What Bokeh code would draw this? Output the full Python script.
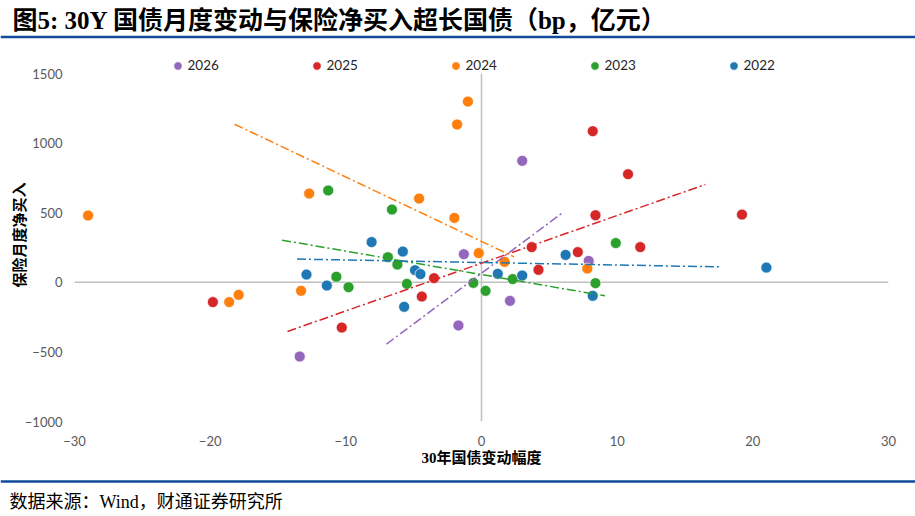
from bokeh.plotting import figure
from bokeh.models import (Range1d, FixedTicker, Span, Label, Legend, LegendItem)
from bokeh.layouts import column
from bokeh.embed import file_html
from bokeh.resources import INLINE

# ---------------- data ----------------
years = ["2026", "2025", "2024", "2023", "2022"]
colors = ["#9467bd", "#d62728", "#ff7f0e", "#2ca02c", "#1f77b4"]

x_2026 = [-13.4, -1.7, -1.3, 2.1, 3.0, 7.9]
y_2026 = [-533, -310, 202, -133, 873, 154]

x_2025 = [-19.8, -10.3, -4.4, -3.5, 3.7, 4.2, 7.1, 8.2, 8.4, 10.8, 11.7, 19.2]
y_2025 = [-142, -325, -102, 30, 253, 90, 217, 1086, 482, 777, 253, 487]

x_2024 = [-29.0, -18.6, -17.9, -13.3, -12.7, -4.6, -2.0, -1.8, -1.0, -0.2, 1.7, 7.8]
y_2024 = [480, -142, -90, -61, 638, 602, 463, 1134, 1299, 210, 147, 99]

x_2023 = [-11.3, -10.7, -9.8, -6.9, -6.6, -6.2, -5.5, -0.6, 0.3, 2.3, 8.4, 9.9]
y_2023 = [660, 40, -35, 181, 523, 128, -11, -4, -61, 23, -6, 282]

x_2022 = [-12.9, -11.4, -8.1, -5.8, -5.7, -4.9, -4.5, 1.2, 3.0, 6.2, 8.2, 21.0]
y_2022 = [56, -23, 289, 221, -176, 87, 59, 61, 49, 197, -97, 106]

# trend lines (start / end), per year in the order of `years`
trend_x0 = [-7.0, -14.3, -18.2, -14.7, -13.6]
trend_y0 = [-444, -353, 1136, 303, 167]
trend_x1 = [6.0, 16.5, 2.4, 9.1, 17.5]
trend_y1 = [502, 703, 183, -97, 111]

x_ticks = [-30, -20, -10, 0, 10, 20, 30]
y_ticks = [-1000, -500, 0, 500, 1000, 1500]

title_text = "图5: 30Y 国债月度变动与保险净买入超长国债（bp，亿元）"
x_label = "30年国债变动幅度"
y_label = "保险月度净买入"
source_text = "数据来源：Wind，财通证券研究所"

series_x = [x_2026, x_2025, x_2024, x_2023, x_2022]
series_y = [y_2026, y_2025, y_2024, y_2023, y_2022]

W = 915
BLUE = "#124a9c"
SERIF = "Liberation Serif, Noto Sans CJK SC"


def strip(h):
    f = figure(width=W, height=h, x_range=Range1d(0, W), y_range=Range1d(h, 0),
               x_axis_type=None, y_axis_type=None, toolbar_location=None,
               output_backend="svg", min_border=0, outline_line_color=None,
               title=None, frame_align=False)
    f.grid.visible = False
    return f


# ---------------- title strip ----------------
top = strip(39)
top.add_layout(Label(x=12, y=20, text=title_text, text_font=SERIF,
                     text_font_style="bold", text_font_size="25px",
                     text_color="#000000", text_baseline="middle",
                     text_align="left"))
top.add_layout(Span(location=36.5, dimension="width", line_color=BLUE,
                    line_width=2.5))

# ---------------- main chart ----------------
p = figure(width=W, height=440, x_range=Range1d(-30, 30),
           y_range=Range1d(-1000, 1680), toolbar_location=None,
           output_backend="svg", min_border_left=74, min_border_right=27,
           min_border_top=9, min_border_bottom=58, outline_line_color=None,
           title=None, frame_align=False)
p.grid.visible = False

for ax, ticks in ((p.xaxis[0], x_ticks), (p.yaxis[0], y_ticks)):
    ax.ticker = FixedTicker(ticks=ticks)
    ax.axis_line_color = None
    ax.major_tick_line_color = None
    ax.minor_tick_line_color = None
    ax.major_tick_out = 0
    ax.major_tick_in = 0
    ax.minor_tick_out = 0
    ax.minor_tick_in = 0
    ax.major_label_text_font = "Lato"
    ax.major_label_text_font_size = "13px"
    ax.major_label_text_color = "#595959"
    ax.axis_label_text_font = SERIF
    ax.axis_label_text_font_style = "bold"
    ax.axis_label_text_font_size = "15px"
    ax.axis_label_text_color = "#000000"

p.xaxis.axis_label = x_label
p.yaxis.axis_label = y_label
p.xaxis.major_label_standoff = 14
p.xaxis.axis_label_standoff = 1
p.yaxis.major_label_standoff = 12
p.yaxis.axis_label_standoff = -6

# zero axes
p.add_layout(Span(location=0, dimension="width", line_color="#bfbfbf",
                  line_width=1.5, level="underlay"))
p.line(x=[0, 0], y=[y_ticks[0], y_ticks[-1]], line_color="#bfbfbf",
       line_width=1.5, level="underlay")

items = []
for yr, c, xs, ys in zip(years, colors, series_x, series_y):
    r = p.scatter(x=xs, y=ys, size=11, fill_color=c, line_color="white",
                  line_width=0.7)
    items.append(LegendItem(label=yr, renderers=[r]))

for c, xa, ya, xb, yb in zip(colors, trend_x0, trend_y0, trend_x1, trend_y1):
    p.line(x=[xa, xb], y=[ya, yb], line_color=c, line_width=1.5,
           line_dash="9 3 2 3")

legend = Legend(items=items, orientation="horizontal", location=(92.5, 345.5),
                glyph_width=21, glyph_height=21, label_standoff=0,
                label_width=102, label_height=21, spacing=16, padding=0,
                margin=0, border_line_color=None, background_fill_alpha=0,
                label_text_font="Lato", label_text_font_size="13.5px",
                label_text_color="#262626", label_text_baseline="middle")
p.add_layout(legend)

# ---------------- source strip ----------------
bot = strip(37)
bot.add_layout(Span(location=2, dimension="width", line_color=BLUE,
                    line_width=2.5))
bot.add_layout(Label(x=9, y=22, text=source_text, text_font=SERIF,
                     text_font_size="18px", text_color="#000000",
                     text_baseline="middle", text_align="left"))

layout = column(top, p, bot, spacing=0)
open("out.html", "w").write(file_html(layout, INLINE))
